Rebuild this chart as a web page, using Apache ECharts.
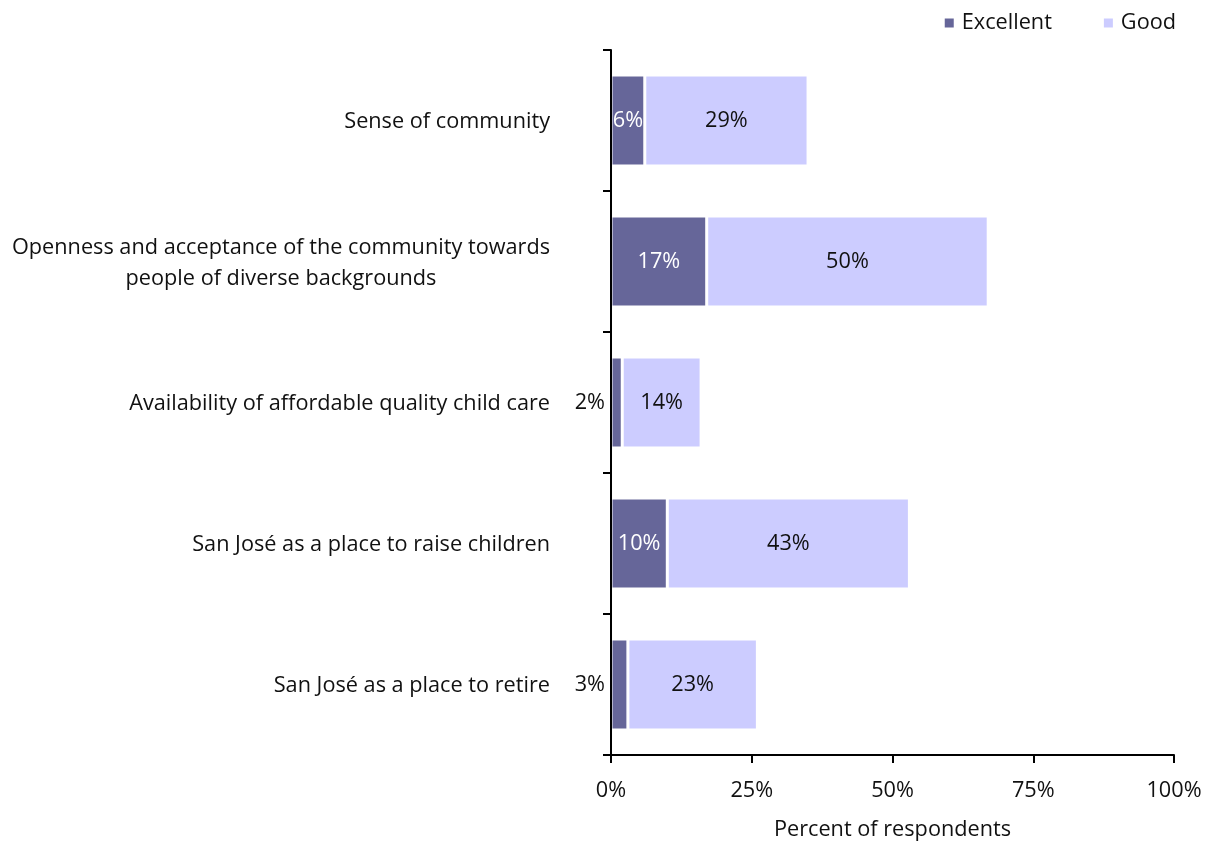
<!DOCTYPE html>
<html>
<head>
<meta charset="utf-8">
<style>
  html, body { margin: 0; padding: 0; background: #fff; }
  #chart { width: 1209px; height: 844px; }
</style>
<script src="https://cdn.jsdelivr.net/npm/echarts@6/dist/echarts.min.js"></script>
</head>
<body>
<div id="chart"></div>
<script>
// Community ratings, share of respondents (%)
const categories = [
  'Sense of community',
  'Openness and acceptance of the community towards\npeople of diverse backgrounds',
  'Availability of affordable quality child care',
  'San José as a place to raise children',
  'San José as a place to retire'
];
const excellent = [6, 17, 2, 10, 3];
const good = [29, 50, 14, 43, 23];
const xTicks = [0, 25, 50, 75, 100];
const seriesNames = ['Excellent', 'Good'];

const FONT = 'Open Sans';
const TEXT = '#111';
const FS = 21.7;
const chart = echarts.init(document.getElementById('chart'));

// Narrow segments carry their label outside, left of the axis
const excellentData = excellent.map(v => v < 5
  ? { value: v, label: { position: 'left', distance: 6, color: TEXT } }
  : { value: v });

chart.setOption({
  animation: false,
  textStyle: { fontFamily: FONT },
  legend: {
    right: 28, top: 7,
    itemWidth: 11, itemHeight: 11, itemGap: 50,
    icon: 'rect',
    textStyle: { fontFamily: FONT, fontSize: FS, color: TEXT, padding: [0, 0, 0, 2] },
    data: seriesNames
  },
  grid: { left: 611, right: 35, top: 50, bottom: 89, containLabel: false, outerBoundsMode: 'none' },
  xAxis: {
    type: 'value', min: 0, max: 100, interval: 25,
    name: 'Percent of respondents', nameLocation: 'middle', nameGap: 64,
    nameTextStyle: { fontFamily: FONT, fontSize: FS, color: TEXT },
    axisLine: { show: true, lineStyle: { color: '#000', width: 2 } },
    axisTick: { show: true, length: 8, lineStyle: { color: '#000', width: 2 } },
    splitLine: { show: false },
    axisLabel: {
      margin: 25, fontFamily: FONT, fontSize: FS, color: TEXT,
      formatter: v => xTicks.includes(v) ? v + '%' : ''
    }
  },
  yAxis: {
    type: 'category', inverse: true, data: categories, z: 10,
    axisLine: { show: true, lineStyle: { color: '#000', width: 2 } },
    axisTick: { show: true, length: 8, lineStyle: { color: '#000', width: 2 } },
    axisLabel: {
      margin: 61, fontFamily: FONT, fontSize: FS, color: TEXT,
      formatter: v => v.split('\n').map(l => '{c|' + l + '}').join('\n'),
      rich: { c: { align: 'center', fontFamily: FONT, fontSize: FS, color: TEXT, lineHeight: 31, padding: [3, 0, 0, 0] } }
    }
  },
  series: [
    {
      name: seriesNames[0], type: 'bar', stack: 'total', barWidth: 91,
      itemStyle: { color: '#666699', borderColor: '#fff', borderWidth: 1.5 },
      label: { show: true, position: 'inside', color: '#fff', fontFamily: FONT, fontSize: FS, formatter: '{c}%' },
      data: excellentData
    },
    {
      name: seriesNames[1], type: 'bar', stack: 'total', barWidth: 91,
      itemStyle: { color: '#ccccff', borderColor: '#fff', borderWidth: 1.5 },
      label: { show: true, position: 'inside', color: TEXT, fontFamily: FONT, fontSize: FS, formatter: '{c}%' },
      data: good
    }
  ]
});
</script>
</body>
</html>
